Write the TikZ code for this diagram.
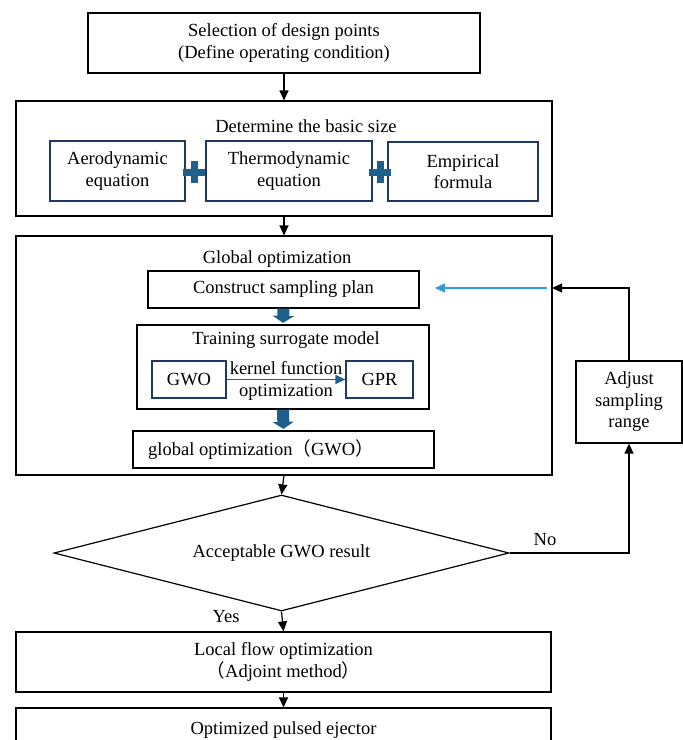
\documentclass[tikz,border=0pt]{standalone}
\usepackage{fontspec}
\setmainfont{Liberation Serif}
\newfontfamily\cjk{Noto Sans CJK SC}
\usetikzlibrary{arrows.meta,shapes.geometric}
\definecolor{navy}{HTML}{1F3864}
\definecolor{steel}{HTML}{1F5F8B}
\definecolor{sky}{HTML}{2E9CDB}
\newcommand\fsz{\fontsize{18.5}{21.5}\selectfont}
\begin{document}
\begin{tikzpicture}[x=1pt,y=1pt,
  box/.style={draw=black,line width=1.2pt,inner sep=0pt,align=center,font=\fsz},
  ibox/.style={draw=navy,line width=1.2pt,inner sep=0pt,align=center,font=\fsz},
  txt/.style={inner sep=0pt,align=center,font=\fsz},
  arr/.style={line width=1.2pt,-{Triangle[length=10pt,width=9pt]}},
  blockarr/.style={steel,line width=12pt,shorten >=1.5pt,-{Triangle[length=7pt,width=21pt]}},
  plusbar/.style={fill=steel}
]
\useasboundingbox (0,0) rectangle (683,-740);
\clip (0,0) rectangle (683,-740);

% top box
\node[box,minimum width=392,minimum height=60] (sel) at (284,-43) {Selection of design points\\(Define operating condition)};

% basic size
\node[box,minimum width=536,minimum height=115] (basic) at (284,-158.5) {};
\node[txt] (basicT) at (306,-126) {Determine the basic size};
\node[ibox,minimum width=135,minimum height=60] (aero) at (117.5,-171) {Aerodynamic\\equation};
\node[ibox,minimum width=166,minimum height=60] (thermo) at (289,-171) {Thermodynamic\\equation};
\node[ibox,minimum width=150,minimum height=59] (emp) at (463,-171.5) {Empirical\\formula};
\coordinate (p1) at (194,-172);
\coordinate (p2) at (380,-172);
\foreach \p in {p1,p2}{
  \begin{scope}[shift={(\p)}]
    \fill[plusbar] (-11,-3.5) rectangle (11,3.5);
    \fill[plusbar] (-3.5,-11) rectangle (3.5,11);
  \end{scope}
}

% global optimization
\node[box,minimum width=536,minimum height=239] (glob) at (284,-355.5) {};
\node[txt] (globT) at (277,-259) {Global optimization};
\node[box,minimum width=271,minimum height=37] (csp) at (283.5,-289.5) {Construct sampling plan};
\node[box,minimum width=292,minimum height=84] (train) at (283,-367) {};
\node[txt] (trainT) at (286,-340) {Training surrogate model};
\node[ibox,minimum width=74,minimum height=37] (gwo) at (189,-379.5) {GWO};
\node[ibox,minimum width=67,minimum height=37] (gpr) at (379.5,-379.5) {GPR};
\draw[steel,line width=1.2pt,-{Triangle[length=10pt,width=9pt]}] (gwo.east) -- (gpr.west);
\node[txt] (kf1) at (286,-368) {kernel function};
\node[txt] (kf2) at (286,-392) {optimization};
\node[box,minimum width=301,minimum height=37] (gres) at (283.5,-449.5) {};
\node[txt,anchor=west] (gresT) at (148,-449.5) {global optimization{\cjk （}GWO{\cjk ）}};

\draw[blockarr] (csp.south) -- (train.north);
\draw[blockarr] (train.south) -- (gres.north);

% feedback
\node[box,minimum width=106,minimum height=82] (adj) at (629,-402) {Adjust\\sampling\\range};
\coordinate (fb) at (552,-288);
\coordinate (bs) at (547,-288);
\coordinate (be) at (435,-288);
\draw[sky,line width=1.2pt,-{Triangle[length=10pt,width=9pt]}] (bs) -- (be);
\draw[arr] (adj.north) |- (fb);

% decision
\node[draw=black,line width=1.2pt,shape=diamond,aspect=3.92,inner sep=0pt,
      minimum width=455,minimum height=116,font=\fsz] (dec) at (281.5,-553) {Acceptable GWO result};
\draw[arr] (dec.east) -| (adj.south);
\node[txt] (no) at (545,-540) {No};
\node[txt] (yes) at (226,-617) {Yes};

% bottom
\node[box,minimum width=535,minimum height=60] (local) at (283.5,-662) {Local flow optimization\\{\cjk （}Adjoint method{\cjk ）}};
\node[box,minimum width=535,minimum height=60] (opt) at (283.5,-738) {};
\node[txt] (optT) at (283.5,-730) {Optimized pulsed ejector};

% main flow arrows
\draw[arr] (sel.south) -- (basic.north);
\draw[arr] (basic.south) -- (glob.north);
\draw[arr] (glob.south) -- (dec.north);
\draw[arr] (dec.south) -- (local.north);
\draw[arr] (local.south) -- (opt.north);
\end{tikzpicture}
\end{document}
